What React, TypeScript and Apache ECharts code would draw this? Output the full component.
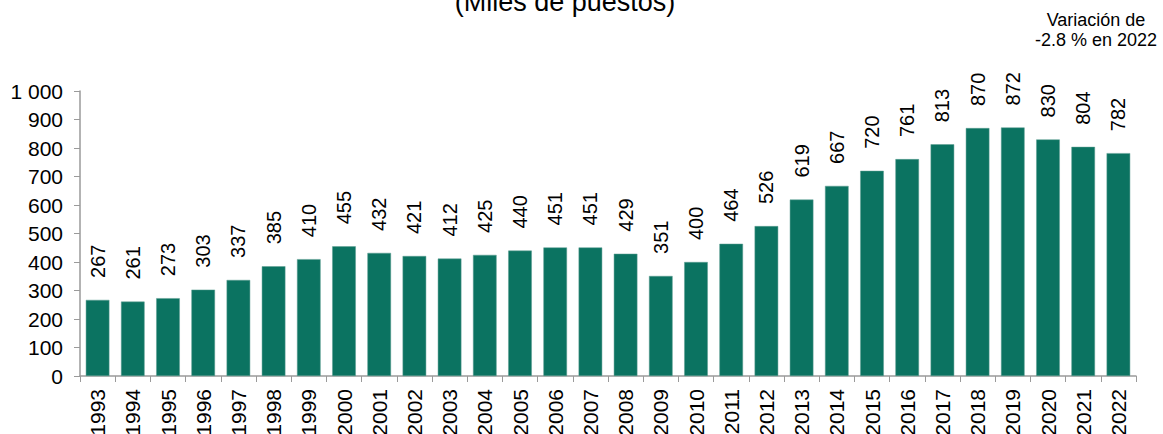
import React, { useEffect, useRef } from "react";
import * as echarts from "echarts";

const years = ["1993","1994","1995","1996","1997","1998","1999","2000","2001","2002","2003","2004","2005","2006","2007","2008","2009","2010","2011","2012","2013","2014","2015","2016","2017","2018","2019","2020","2021","2022"];
const values = [267,261,273,303,337,385,410,455,432,421,412,425,440,451,451,429,351,400,464,526,619,667,720,761,813,870,872,830,804,782];
const titleText = "(Miles de puestos)";
const noteLines = ["Variación de", "-2.8 % en 2022"];

const FONT = "Liberation Sans, Arial, sans-serif";

export default function App() {
  const ref = useRef<HTMLDivElement>(null);
  useEffect(() => {
    const chart = echarts.init(ref.current!, null, { renderer: "svg" });
    chart.setOption({
      animation: false,
      grid: { left: 80, right: 27, top: 91, bottom: 58, outerBoundsMode: "none", containLabel: false },
      graphic: [
        { type: "text", x: 565, y: -12, style: { text: titleText, font: `27px ${FONT}`, fill: "#000", align: "center", verticalAlign: "top" } },
        { type: "text", x: 1096, y: 10, style: { text: noteLines.join("\n"), font: `18px ${FONT}`, fill: "#000", align: "center", verticalAlign: "top", lineHeight: 20 } },
      ],
      xAxis: {
        type: "category",
        data: years,
        axisLine: { lineStyle: { color: "#9a9a9a", width: 1.5 } },
        axisTick: { show: true, length: 6, lineStyle: { color: "#9a9a9a" } },
        axisLabel: { rotate: 90, color: "#000", fontSize: 21, fontFamily: FONT, margin: 13, interval: 0 },
      },
      yAxis: {
        type: "value",
        min: 0,
        max: 1000,
        interval: 100,
        splitLine: { show: false },
        axisLine: { show: true, lineStyle: { color: "#9a9a9a", width: 1.5 } },
        axisTick: { show: true, length: 6, lineStyle: { color: "#9a9a9a" } },
        axisLabel: {
          color: "#000", fontSize: 21, fontFamily: FONT, margin: 17,
          formatter: (v: number) => v >= 1000 ? `${Math.floor(v / 1000)} ${String(v % 1000).padStart(3, "0")}` : String(v),
        },
      },
      series: [{
        type: "bar",
        data: values,
        barCategoryGap: "33%",
        itemStyle: { color: "#0B7361", borderColor: "#5f9f92", borderWidth: 0.5 },
        label: {
          show: true, position: "top", rotate: 90, align: "left", verticalAlign: "middle",
          distance: 22, color: "#000", fontSize: 20, fontFamily: FONT,
        },
      }],
    });
    return () => chart.dispose();
  }, []);
  return <div ref={ref} style={{ width: 1163, height: 434, position: "absolute", left: 0, top: 0 }} />;
}
